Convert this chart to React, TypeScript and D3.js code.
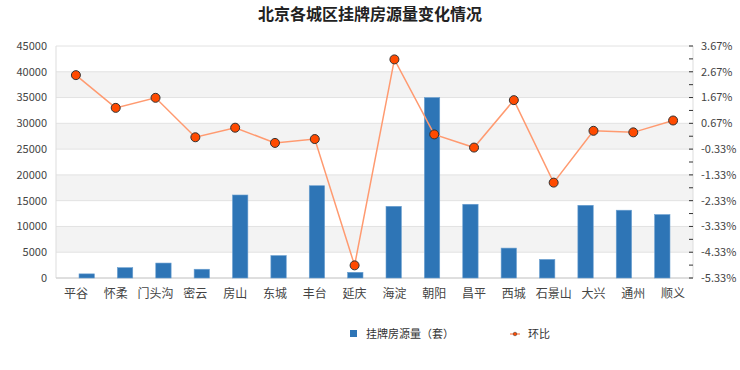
import * as React from "react";
import { useRef, useEffect } from "react";
import * as d3 from "d3";

const districts = ["平谷", "怀柔", "门头沟", "密云", "房山", "东城", "丰台", "延庆", "海淀", "朝阳", "昌平", "西城", "石景山", "大兴", "通州", "顺义"];
const listings = [800, 2000, 2900, 1700, 16100, 4350, 17900, 1100, 13900, 35000, 14300, 5800, 3600, 14100, 13150, 12300];
const changePct = [2.54, 1.27, 1.66, 0.13, 0.5, -0.09, 0.06, -4.84, 3.15, 0.24, -0.27, 1.57, -1.63, 0.38, 0.32, 0.78];
const leftTicks = [0, 5000, 10000, 15000, 20000, 25000, 30000, 35000, 40000, 45000];
const rightTicks = [-5.33, -4.33, -3.33, -2.33, -1.33, -0.33, 0.67, 1.67, 2.67, 3.67];

const font = "'Noto Sans CJK SC', 'Noto Sans', sans-serif";

const App = () => {
  const svgRef = useRef<SVGSVGElement>(null);

  useEffect(() => {
    const W = 740;
    const H = 370;
    const margin = { top: 46, right: 47, bottom: 92, left: 56 };
    const width = W - margin.left - margin.right;
    const height = H - margin.top - margin.bottom;

    const svg = d3.select(svgRef.current).attr("width", W).attr("height", H);
    svg.selectAll("*").remove();

    svg
      .append("text")
      .attr("x", W / 2)
      .attr("y", 20)
      .attr("text-anchor", "middle")
      .attr("font-family", font)
      .attr("font-size", 16)
      .attr("font-weight", "bold")
      .attr("fill", "#222")
      .text("北京各城区挂牌房源量变化情况");

    const g = svg.append("g").attr("transform", `translate(${margin.left},${margin.top})`);

    const x = d3.scaleBand().domain(districts).range([0, width]).padding(0.6);
    const xc = d3.scaleBand().domain(districts).range([0, width]);
    const yL = d3.scaleLinear().domain([0, 45000]).range([height, 0]);
    const yR = d3.scaleLinear().domain([-5.33, 3.67]).range([height, 0]);

    // alternating bands
    const bands = [5000, 15000, 25000, 35000];
    g.selectAll("rect.band")
      .data(bands)
      .enter()
      .append("rect")
      .attr("x", 0)
      .attr("width", width)
      .attr("y", (d) => yL(d + 5000))
      .attr("height", (d) => yL(d) - yL(d + 5000))
      .attr("fill", "#f3f3f3");

    // grid lines
    g.selectAll("line.grid")
      .data(leftTicks)
      .enter()
      .append("line")
      .attr("x1", 0)
      .attr("x2", width)
      .attr("y1", (d) => yL(d))
      .attr("y2", (d) => yL(d))
      .attr("stroke", "#e2e2e2");

    // frame
    g.append("line").attr("x1", 0).attr("x2", 0).attr("y1", 0).attr("y2", height).attr("stroke", "#ddd");
    g.append("line").attr("x1", width).attr("x2", width).attr("y1", 0).attr("y2", height).attr("stroke", "#ddd");
    g.append("line").attr("x1", 0).attr("x2", width).attr("y1", height).attr("y2", height).attr("stroke", "#ccc");

    // left axis labels
    g.selectAll("text.yl")
      .data(leftTicks)
      .enter()
      .append("text")
      .attr("x", -9)
      .attr("y", (d) => yL(d))
      .attr("dy", "0.35em")
      .attr("text-anchor", "end")
      .attr("font-family", font)
      .attr("font-size", 11)
      .attr("fill", "#444")
      .text((d) => d);

    // right axis ticks
    const minor = rightTicks.slice(0, -1).map((d) => d + 0.5);
    g.selectAll("line.rt")
      .data(rightTicks.concat(minor))
      .enter()
      .append("line")
      .attr("x1", width - 4)
      .attr("x2", width)
      .attr("y1", (d) => yR(d))
      .attr("y2", (d) => yR(d))
      .attr("stroke", "#333");

    g.selectAll("text.yr")
      .data(rightTicks)
      .enter()
      .append("text")
      .attr("x", width + 8)
      .attr("y", (d) => yR(d))
      .attr("dy", "0.35em")
      .attr("font-family", font)
      .attr("font-size", 11)
      .attr("fill", "#444")
      .text((d) => d.toFixed(2) + "%");

    // bars
    g.selectAll("rect.bar")
      .data(listings)
      .enter()
      .append("rect")
      .attr("x", (_, i) => x(districts[i]))
      .attr("y", (d) => yL(d))
      .attr("width", x.bandwidth())
      .attr("height", (d) => height - yL(d))
      .attr("fill", "#2e75b6")
      .attr("stroke", "#6a9fd0")
      .attr("stroke-width", 0.6);

    // x labels
    g.selectAll("text.xl")
      .data(districts)
      .enter()
      .append("text")
      .attr("x", (d) => xc(d) + xc.bandwidth() / 2)
      .attr("y", height + 20)
      .attr("text-anchor", "middle")
      .attr("font-family", font)
      .attr("font-size", 12)
      .attr("fill", "#444")
      .text((d) => d);

    // line
    const line = d3
      .line<number>()
      .x((_, i) => xc(districts[i]) + xc.bandwidth() / 2)
      .y((d) => yR(d));
    g.append("path")
      .datum(changePct)
      .attr("fill", "none")
      .attr("stroke", "#ff9a70")
      .attr("stroke-width", 1.5)
      .attr("d", line);

    g.selectAll("circle.pt")
      .data(changePct)
      .enter()
      .append("circle")
      .attr("cx", (_, i) => xc(districts[i]) + xc.bandwidth() / 2)
      .attr("cy", (d) => yR(d))
      .attr("r", 4.5)
      .attr("fill", "#ff4a00")
      .attr("stroke", "#333")
      .attr("stroke-width", 1);

    // legend
    const lg = svg.append("g").attr("transform", "translate(0,334)");
    lg.append("rect").attr("x", 350).attr("y", -4).attr("width", 7).attr("height", 7).attr("fill", "#2e75b6");
    lg.append("text")
      .attr("x", 366)
      .attr("y", 0)
      .attr("dy", "0.35em")
      .attr("font-family", font)
      .attr("font-size", 11)
      .attr("fill", "#333")
      .text("挂牌房源量（套）");
    lg.append("line").attr("x1", 510).attr("x2", 520).attr("y1", 0).attr("y2", 0).attr("stroke", "#ff9a70").attr("stroke-width", 1.5);
    lg.append("circle").attr("cx", 515).attr("cy", 0).attr("r", 1.8).attr("fill", "#ff4a00").attr("stroke", "#333").attr("stroke-width", 0.5);
    lg.append("text")
      .attr("x", 528)
      .attr("y", 0)
      .attr("dy", "0.35em")
      .attr("font-family", font)
      .attr("font-size", 11)
      .attr("fill", "#333")
      .text("环比");
  }, []);

  return (
    <div style={{ position: "absolute", left: 0, top: 0 }}>
      <svg ref={svgRef}></svg>
    </div>
  );
};

export default App;
